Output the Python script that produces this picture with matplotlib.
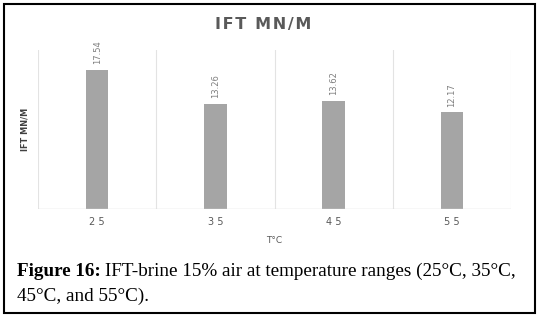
import matplotlib
matplotlib.use('Agg')
import matplotlib.pyplot as plt
from matplotlib.patches import Rectangle

# data
temps = ['2 5', '3 5', '4 5', '5 5']
ift = [17.54, 13.26, 13.62, 12.17]
labels = ['17.54', '13.26', '13.62', '12.17']

fig = plt.figure(figsize=(5.4, 3.18), dpi=100)
fig.patch.set_facecolor('white')

# black frame round the whole figure
fig.add_artist(Rectangle((4 / 540, 5 / 318), 531 / 540, 309 / 318,
                         transform=fig.transFigure, fill=False,
                         edgecolor='black', linewidth=1.5))

ax = fig.add_axes([38 / 540, 109 / 318, 473 / 540, 159 / 318])
x = list(range(len(temps)))
ax.bar(x, ift, width=0.19, color='#a5a5a5', zorder=3)
ax.set_xlim(-0.5, len(temps) - 0.5)
ax.set_ylim(0, 20)

# excel style vertical separators between categories
for b in [i - 0.5 for i in range(len(temps) + 1)]:
    ax.axvline(b, color='#e3e3e3', linewidth=0.8, zorder=1)

for s in ax.spines.values():
    s.set_visible(False)
ax.axhline(0, color='#d9d9d9', linewidth=1.0, zorder=4)

ax.set_yticks([])
ax.set_xticks(x)
ax.set_xticklabels(temps, fontsize=7, color='#595959')
ax.tick_params(axis='x', length=0, pad=6)

for xi, v, t in zip(x, ift, labels):
    ax.annotate(t, (xi, v), xytext=(0, 4), textcoords='offset points',
                rotation=90, ha='center', va='bottom', fontsize=6,
                color='#7f7f7f')

ax.set_xlabel('T°C', fontsize=6.5, color='#595959', labelpad=6)
ax.set_ylabel('IFT MN/M', fontsize=6.5, color='#404040', labelpad=6,
              fontweight='bold', fontstretch='condensed')

# title with a little letter spacing
title = '\u200a'.join('IFT MN/M')
fig.text(0.487, 1 - 25 / 318, title, ha='center', va='center',
         fontsize=11.5, fontweight='bold', color='#595959')

# caption under the chart
cap_font = 'Liberation Serif'
cap_size = 13.8
t1 = fig.text(17 / 540, 1 - 271 / 318, 'Figure 16:', fontsize=cap_size,
              fontweight='bold', family=cap_font, va='center', ha='left')
fig.canvas.draw()
bb = t1.get_window_extent()
fig.text(bb.x1 / 540 + 4 / 540, 1 - 271 / 318,
         'IFT-brine 15% air at temperature ranges (25°C, 35°C,',
         fontsize=cap_size, family=cap_font, va='center', ha='left')
fig.text(17 / 540, 1 - 296 / 318, '45°C, and 55°C).', fontsize=cap_size,
         family=cap_font, va='center', ha='left')

fig.savefig('out.png', dpi=100)
